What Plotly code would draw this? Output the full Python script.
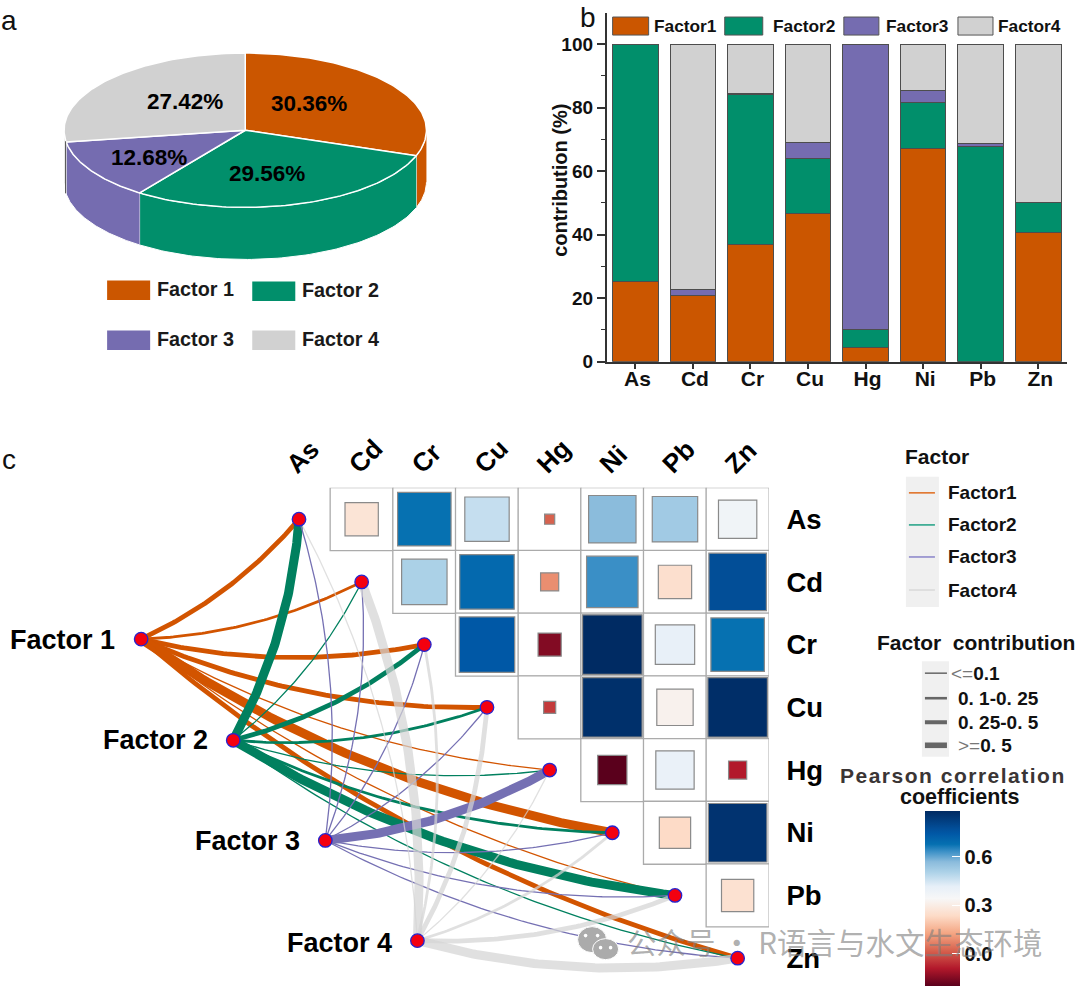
import numpy as np
import plotly.graph_objects as go

# ---------- data ----------
factors = ["Factor1", "Factor2", "Factor3", "Factor4"]
factor_node_labels = ["Factor 1", "Factor 2", "Factor 3", "Factor 4"]
metals = ["As", "Cd", "Cr", "Cu", "Hg", "Ni", "Pb", "Zn"]

pie_shares = [30.36, 29.56, 12.68, 27.42]

factor1 = [25.2, 20.7, 37.0, 46.8, 4.3, 67.2, 0.0, 40.7]
factor2 = [74.8, 0.0, 47.2, 17.1, 5.9, 14.4, 67.8, 9.3]
factor3 = [0.0, 1.9, 0.3, 5.2, 89.8, 3.8, 1.0, 0.0]
factor4 = [0.0, 77.4, 15.5, 30.9, 0.0, 14.6, 31.2, 50.0]

# upper triangle, row by row (As row has Cd..Zn, Cd row has Cr..Zn, ...)
corr_as = [0.27, 0.68, 0.47, 0.02, 0.57, 0.53, 0.376]
corr_cd = [0.51, 0.70, 0.09, 0.637, 0.25, 0.78]
corr_cr = [0.745, -0.15, 0.885, 0.41, 0.68]
corr_cu = [-0.04, 0.87, 0.32, 0.875]
corr_hg = [-0.20, 0.40, -0.09]
corr_ni = [0.235, 0.86]
corr_pb = [0.257]

weight_as = [0.25, 0.645, 0.444, 0.023, 0.507, 0.465, 0.331]
weight_cd = [0.465, 0.669, 0.074, 0.597, 0.25, 0.746]
weight_cr = [0.694, 0.121, 0.799, 0.349, 0.645]
weight_cu = [0.033, 0.799, 0.298, 0.799]
weight_hg = [0.193, 0.331, 0.074]
weight_ni = [0.221, 0.772]
weight_pb = [0.235]

colorbar_ticks = [0.0, 0.3, 0.6]
contribution_classes = ["<=0.1", "0. 1-0. 25", "0. 25-0. 5", ">=0. 5"]

# ---------- styles / layout constants ----------
W, H = 1080, 986
SX, SY = 1.001, 1.012      # overlay units to page pixels
FONT = "Liberation Sans"
C_BAR = ["#CB5600", "#018F6B", "#756CB0", "#D1D1D1"]
C_NET = ["#D25400", "#01805F", "#7570B3", "rgba(212,212,212,0.72)"]
C_KEY = ["#E0732A", "#2DA58A", "#8F8ACB", "#DADADA"]
CSCALE = [[0.0, "#5a001c"], [0.1, "#b2182b"], [0.2, "#d6604d"], [0.3, "#f4a582"],
          [0.4, "#fddbc7"], [0.5, "#f7f7f7"], [0.57, "#e6eff8"], [0.65, "#add2e8"],
          [0.71, "#8abbdc"], [0.77, "#3a8fc6"], [0.81, "#0570b1"], [0.87, "#0058a6"],
          [0.9, "#024e98"], [1.0, "#002a62"]]
CMIN, CMAX = -0.2, 0.8875

GX0, GY0, CELL = 330.0, 487.0, 62.6     # first grid cell corner, cell side
COL0 = GX0 - CELL                        # left edge of the (empty) As column
CELL_PX = CELL * (SX + SY) / 2


def X(v):
    return v * SX


def Y(v):
    return v * SY


fig = go.Figure()
shapes, notes = [], []


def note(x, y, text, size, anchor="center", bold=True, color="#111111", angle=0, family=FONT):
    notes.append(dict(x=x, y=y, xref="x", yref="y", text=f"<b>{text}</b>" if bold else text,
                      showarrow=False, xanchor=anchor, yanchor="middle", textangle=angle,
                      font=dict(family=family, size=size, color=color)))


def rect(x0, y0, x1, y1, fill, line=None, lw=0):
    shapes.append(dict(type="rect", xref="x", yref="y", x0=x0, y0=y0, x1=x1, y1=y1,
                       fillcolor=fill, line=dict(color=line or fill, width=lw), layer="above"))


def hline(x0, x1, y, color, lw):
    shapes.append(dict(type="line", xref="x", yref="y", x0=x0, x1=x1, y0=y, y1=y,
                       line=dict(color=color, width=lw), layer="above"))


# ---------- a: 3-D pie built from the shares ----------
PX, PY, PA, PB, PD = 245.0, 130.0, 181.0, 77.0, 52.0
edges = np.concatenate([[0], np.cumsum(pie_shares)]) / sum(pie_shares) * 2 * np.pi


def arc(t0, t1, dy=0.0, n=80):
    t = np.linspace(t0, t1, n)
    return PX + PA * np.sin(t), PY - PB * np.cos(t) + dy


# side walls (only the front half, pi/2 .. 3pi/2, is visible)
for k in range(4):
    t0, t1 = max(edges[k], np.pi / 2), min(edges[k + 1], 3 * np.pi / 2)
    if t1 <= t0:
        continue
    xa, ya = arc(t0, t1)
    xb, yb = arc(t1, t0, PD)
    fig.add_trace(go.Scatter(x=np.r_[xa, xb], y=np.r_[ya, yb], fill="toself", mode="lines",
                             fillcolor=C_BAR[k], line=dict(color="#FFFFFF", width=1.0),
                             hoverinfo="skip", showlegend=False))
# top faces
for k in range(4):
    xa, ya = arc(edges[k], edges[k + 1])
    fig.add_trace(go.Scatter(x=np.r_[PX, xa, PX], y=np.r_[PY, ya, PY], fill="toself", mode="lines",
                             fillcolor=C_BAR[k], line=dict(color="#FFFFFF", width=1.5),
                             hoverinfo="skip", showlegend=False))
pie_label_pos = [(309, 103), (267, 173), (149, 157), (185, 101)]
for share, (lx, ly) in zip(pie_shares, pie_label_pos):
    note(lx, ly, f"{share:.2f}%", 22.5, color="#000000")
shapes.append(dict(type="line", xref="x", yref="y", x0=65.5, x1=65.5, y0=141, y1=193,
                   line=dict(color="#555555", width=1), layer="above"))
for k, (rx, ry) in enumerate([(107, 280), (252, 281), (107, 330), (252, 330)]):
    rect(rx, ry, rx + 43, ry + 19.5, C_BAR[k])
    note(rx + 48, ry + 8.5, factor_node_labels[k], 19.8, anchor="left", color="#1a1a1a")

# ---------- c: network ----------
factor_xy = [(141, 638), (233, 739), (325, 839), (417, 939)]
metal_xy = [(COL0 + CELL * (i + 0.5), GY0 + CELL * (i + 0.5)) for i in range(len(metals))]
contrib = [factor1, factor2, factor3, factor4]
CURV = 0.11


def class_width(v):
    return 1.3 if v <= 10 else 2.8 if v <= 25 else 4.8 if v < 50 else 9.0


for f, (fx, fy) in enumerate(factor_xy):
    for m, (mx, my) in enumerate(metal_xy):
        cx, cy = (fx + mx) / 2 - (my - fy) * CURV, (fy + my) / 2 + (mx - fx) * CURV
        t = np.linspace(0, 1, 80)
        fig.add_trace(go.Scatter(
            x=(1 - t) ** 2 * fx + 2 * t * (1 - t) * cx + t ** 2 * mx,
            y=(1 - t) ** 2 * fy + 2 * t * (1 - t) * cy + t ** 2 * my,
            mode="lines", line=dict(color=C_NET[f], width=class_width(contrib[f][m])),
            hoverinfo="skip", showlegend=False))
fig.add_trace(go.Scatter(
    x=[p[0] for p in factor_xy + metal_xy], y=[p[1] for p in factor_xy + metal_xy],
    mode="markers", marker=dict(size=13.5, color="#F4000F", line=dict(color="#2424D0", width=1.3)),
    hoverinfo="skip", showlegend=False))
for lab, (x, y) in zip(factor_node_labels, [(62, 639), (155, 739), (247, 840), (339, 941)]):
    note(x, y, lab, 27, color="#000000")

# ---------- b: stacked bars ----------
for k, vals in enumerate(contrib):
    fig.add_trace(go.Bar(x=metals, y=vals, name=factors[k], width=0.79, xaxis="x2", yaxis="y2",
                         marker=dict(color=C_BAR[k], line=dict(color="#4d4d4d", width=1)),
                         showlegend=False))
for k, (rx, rw, tx) in enumerate([(612, 36, 651), (724, 38, 770), (843, 35, 883), (957, 35, 995)]):
    rect(rx, 17, rx + rw, 35, C_BAR[k], "#555555", 1)
    note(tx, 26, factors[k], 17.3, anchor="left")
note(560, 180, "contribution (%)", 20, angle=-90)

# ---------- c: correlation matrix ----------
corr_rows = [corr_as, corr_cd, corr_cr, corr_cu, corr_hg, corr_ni, corr_pb]
weight_rows = [weight_as, weight_cd, weight_cr, weight_cu, weight_hg, weight_ni, weight_pb]
cx_, cy_, cc_, cw_ = [], [], [], []
for r, (cr, wr) in enumerate(zip(corr_rows, weight_rows)):
    for j, (c, w) in enumerate(zip(cr, wr)):
        cx_.append(metals[r + 1 + j]); cy_.append(metals[r]); cc_.append(c); cw_.append(w)
fig.add_trace(go.Scatter(x=cx_, y=cy_, mode="markers", xaxis="x3", yaxis="y3", showlegend=False,
                         hoverinfo="skip",
                         marker=dict(symbol="square", size=CELL_PX, color="#FFFFFF", opacity=1,
                                     line=dict(color="#ABABAB", width=1.3))))
fig.add_trace(go.Scatter(
    x=cx_, y=cy_, mode="markers", xaxis="x3", yaxis="y3", showlegend=False,
    marker=dict(symbol="square", size=[66.6 * np.sqrt(w) for w in cw_], color=cc_, opacity=1,
                colorscale=CSCALE, cmin=CMIN, cmax=CMAX,
                line=dict(color="#8a8a8a", width=1.2),
                colorbar=dict(x=X(924) / W, xanchor="left", xpad=0, ypad=0, y=(H - Y(984)) / H, yanchor="bottom",
                              len=Y(175) / H, lenmode="fraction", thickness=35, outlinewidth=0,
                              tickvals=colorbar_ticks, ticktext=["0.0", "0.3", "0.6"],
                              ticks="inside", tickcolor="#FFFFFF", ticklen=8, tickwidth=1,
                              tickprefix="\u00a0\u00a0\u00a0\u00a0\u00a0",
                              tickfont=dict(family=FONT, size=20, color="#111111", weight="bold")))))

# ---------- key panels ----------
note(936, 456, "Factor", 21)
rect(905, 476, 938, 606, "#F0F0F0")
for k, y in enumerate([492, 524, 556, 589]):
    hline(908, 934, y, C_KEY[k], 1.6)
    note(945, y, factors[k], 19, anchor="left")

note(975, 641, "Factor\u00a0\u00a0contribution", 21)
rect(921, 660, 948, 755.5, "#F0F0F0")
for k, (y, lw, tx) in enumerate(zip([672, 697, 721, 744], [1.5, 2.6, 4, 5.6], [948, 955, 955, 955])):
    hline(924, 946, y, "#666666", lw)
    lab = contribution_classes[k]
    if lab[0] in "<>":
        lab = f'<span style="color:#777777">{lab[0].replace("<", "&lt;").replace(">", "&gt;")}=</span><b>{lab[2:]}</b>'
        note(tx, y, lab, 19, anchor="left", bold=False)
    else:
        note(tx, y, lab, 19, anchor="left")
note(952, 774, '<span style="letter-spacing:1.5px">Pearson correlation</span>', 21, color="#3a3535")
note(959, 796, "coefficients", 21.5)

# panel letters
note(9, 20, "a", 28, bold=False)
note(587, 17, "b", 28, bold=False)
note(9, 459, "c", 28, bold=False)

# watermark
WM = "rgba(125,125,125,0.62)"
for (x0, y0, x1, y1) in [(577, 925, 606, 951), (592, 937, 618, 958)]:
    shapes.append(dict(type="circle", xref="x", yref="y", x0=x0, y0=y0, x1=x1, y1=y1,
                       fillcolor="#ABABAB", line=dict(color="#FFFFFF", width=1), layer="above"))
for (x, y) in [(585, 934), (597, 934), (600, 946), (610, 946)]:
    shapes.append(dict(type="circle", xref="x", yref="y", x0=x - 1.8, y0=y - 1.8, x1=x + 1.8, y1=y + 1.8,
                       fillcolor="#FFFFFF", line=dict(width=0), layer="above"))
note(624, 939, "公众号 · R语言与水文生态环境", 29.5, anchor="left", bold=False, color=WM, family="Noto Sans CJK SC")

# ---------- layout ----------
def hidden(**kw):
    return dict(visible=False, fixedrange=True, **kw)


fig.update_layout(
    width=W, height=H, margin=dict(l=0, r=0, t=0, b=0), autosize=False,
    paper_bgcolor="#FFFFFF", plot_bgcolor="rgba(0,0,0,0)", barmode="stack", bargap=0.21,
    shapes=shapes, annotations=notes, font=dict(family=FONT),
    xaxis=hidden(domain=[0, 1], range=[0, W / SX]),
    yaxis=hidden(domain=[0, 1], range=[H / SY, 0]),
    xaxis2=dict(domain=[X(606) / W, X(1066) / W], anchor="y2", range=[-0.5, 7.5], type="category",
                categoryorder="array", categoryarray=metals, showline=True, linecolor="#333333", linewidth=1.5,
                ticks="outside", ticklen=6, tickcolor="#333333", tickwidth=1.5, showgrid=False, zeroline=False,
                ticklabelshift=2, ticklabelstandoff=-9,
                tickfont=dict(family=FONT, size=21, color="#111111", weight="bold")),
    yaxis2=dict(domain=[(H - Y(361)) / H, (H - Y(13)) / H], anchor="x2", range=[0, 109.8], dtick=20, tick0=0,
                showline=True, linecolor="#333333", linewidth=1.5, ticks="outside", ticklen=8,
                tickcolor="#333333", tickwidth=1.5, showgrid=False, zeroline=False,
                minor=dict(dtick=10, tick0=0, ticks="outside", ticklen=4, tickcolor="#333333", tickwidth=1.2),
                tickfont=dict(family=FONT, size=19, color="#111111", weight="bold")),
    xaxis3=dict(domain=[X(COL0) / W, X(COL0 + 8 * CELL) / W], anchor="y3", side="top", type="category",
                categoryorder="array", categoryarray=metals, range=[-0.5, 7.5], showgrid=False, zeroline=False,
                showline=False, tickangle=-45, ticks="", ticklabelshift=-11, ticklabelstandoff=3,
                tickfont=dict(family=FONT, size=26, color="#000000", weight="bold")),
    yaxis3=dict(domain=[0, (H - Y(GY0)) / H], anchor="x3", side="right", type="category",
                categoryorder="array", categoryarray=metals, range=[(H - Y(GY0)) / (CELL * SY) - 0.5, -0.5],
                showgrid=False, zeroline=False, showline=False, ticks="outside", ticklen=11,
                tickcolor="rgba(0,0,0,0)",
                tickfont=dict(family=FONT, size=27.5, color="#000000", weight="bold")),
)
fig.write_html("out.html", config={"displayModeBar": False}, post_script="document.body.style.margin='0';")
